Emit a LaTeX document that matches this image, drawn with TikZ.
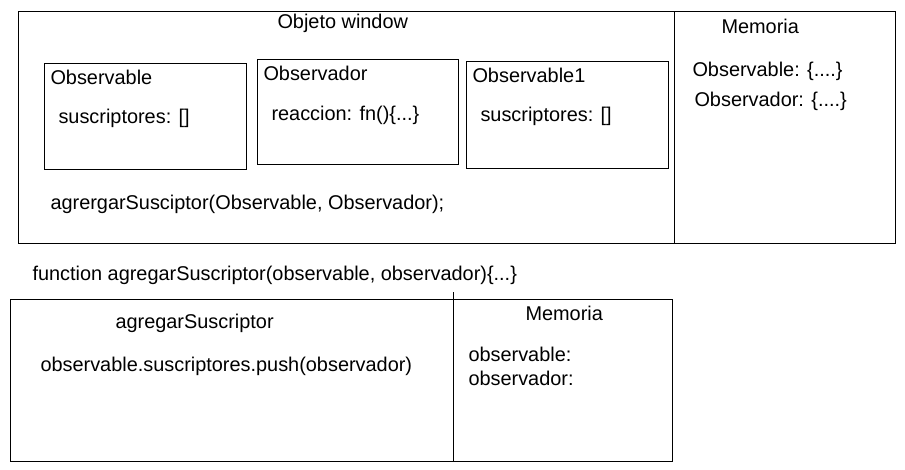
\documentclass[tikz,border=0pt]{standalone}
\usepackage{fontspec}
\setmainfont{Liberation Sans}

\begin{document}
\begin{tikzpicture}[x=1pt,y=-1pt,line width=1pt,
      box/.style={draw,rectangle,inner sep=0pt,anchor=north west},
      txt/.style={inner sep=0pt,anchor=base west,font=\fontsize{19.9}{22}\selectfont}]
    \useasboundingbox (0,0) rectangle (905,470);
    % objeto window y su memoria
    \node[box,minimum width=656pt,minimum height=232pt] (window) at (18,11) {};
    \node[box,minimum width=221pt,minimum height=232pt] (mem) at (674,11) {};
    \node[txt] (winTitle) at (277,29) {Objeto window};
    \node[txt] (memTitle) at (721,34) {Memoria};
    \node[txt] (memObs) at (692,77) {Observable: \{....\}};
    \node[txt] (memObsr) at (694,107) {Observador: \{....\}};
    % objetos
    \node[box,minimum width=202pt,minimum height=106pt] (obs) at (44,63) {};
    \node[box,minimum width=201pt,minimum height=105pt] (obsr) at (257,59) {};
    \node[box,minimum width=202pt,minimum height=107pt] (obs1) at (466,61) {};
    \node[txt] (obsTitle) at (50,85) {Observable};
    \node[txt] (obsSus) at (58,124) {suscriptores: []};
    \node[txt] (obsrTitle) at (263,81) {Observador};
    \node[txt] (obsrReac) at (271,121) {reaccion: fn()\{...\}};
    \node[txt] (obs1Title) at (472,83) {Observable1};
    \node[txt] (obs1Sus) at (480,122) {suscriptores: []};
    \node[txt] (call) at (50,210) {agrergarSusciptor(Observable, Observador);};
    % funcion
    \node[txt] (funcDef) at (32,281) {function agregarSuscriptor(observable, observador)\{...\}};
    \node[box,minimum width=443pt,minimum height=162pt] (func) at (10,299) {};
    \node[box,minimum width=219pt,minimum height=162pt] (funcMem) at (453,299) {};
    \draw (funcMem.north west) -- ++(0,-7);
    \node[txt] (funcTitle) at (115,328) {agregarSuscriptor};
    \node[txt] (funcBody) at (40,371) {observable.suscriptores.push(observador)};
    \node[txt] (funcMemTitle) at (525,321) {Memoria};
    \node[txt] (funcMemObs) at (468,361) {observable:};
    \node[txt] (funcMemObsr) at (468,385) {observador:};
  \end{tikzpicture}
\end{document}
